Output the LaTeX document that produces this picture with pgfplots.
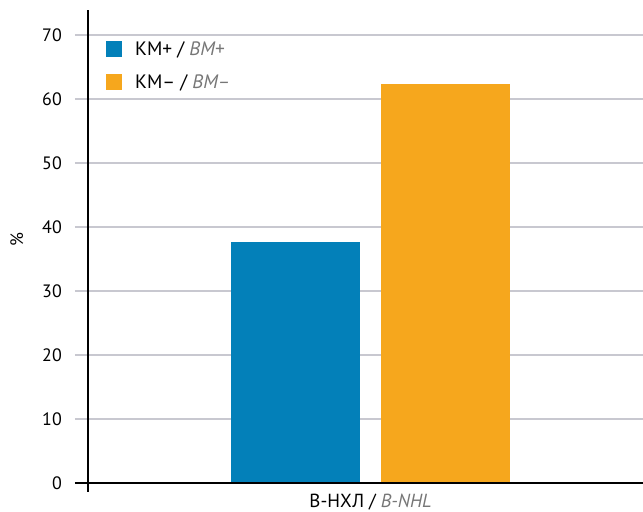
\documentclass[border=0pt]{standalone}
\usepackage{fontspec}
\setmainfont{PT Sans}
\usepackage{pgfplots}
\pgfplotsset{compat=1.18}
\definecolor{kmplus}{RGB}{3,128,185}
\definecolor{kmminus}{RGB}{246,167,29}
\definecolor{gridgray}{RGB}{200,200,208}
\definecolor{latgray}{RGB}{118,118,118}

\begin{document}
\begin{tikzpicture}[x=1bp,y=1bp]
\path[use as bounding box] (-88,-29) rectangle (555,483);
\begin{axis}[
  at={(0,0)}, anchor=south west,
  scale only axis, width=555bp, height=473bp,
  xmin=-282.5, xmax=272.5, ymin=0, ymax=73.9,
  clip=false,
  axis line style={draw=none},
  font=\fontsize{18}{21}\selectfont,
  /pgf/number format/assume math mode=true,
  ytick={0,10,...,70},
  ymajorgrids, grid style={gridgray, line width=1.3bp},
  tick align=outside, major tick length=13bp,
  ytick style={gridgray, line width=1.3bp},
  yticklabel style={inner sep=0pt, xshift=-13bp},
  xtick={0}, xtick style={draw=none},
  xticklabels={В-НХЛ / \textcolor{latgray}{\itshape B-NHL}},
  xticklabel style={inner sep=0pt, yshift=2bp, font=\fontsize{19}{22}\selectfont},
  ylabel={\%},
  ylabel style={at={(axis description cs:-0.128,0.514)}, anchor=center, rotate=0},
  legend style={at={(rel axis cs:0.0324,0.935)}, anchor=north west, draw=none, fill=none,
    inner sep=0pt, row sep=17bp, font=\fontsize{19.5}{22}\selectfont,
    nodes={inner sep=0pt, anchor=west}},
  legend cell align=left,
  legend image code/.code={\fill[#1] (0bp,-8bp) rectangle (16bp,8bp);},
]
\addplot[ybar, bar width=129bp, bar shift=-75bp, fill=kmplus, draw=none] coordinates {(0,37.7)};
\addlegendentry{\hspace{13bp}КМ+ / \textcolor{latgray}{\itshape BM+}}
\addplot[ybar, bar width=129bp, bar shift=75bp, fill=kmminus, draw=none] coordinates {(0,62.3)};
\addlegendentry{\hspace{13bp}КМ– / \textcolor{latgray}{\itshape BM–}}
\draw[black, line width=2bp] ([xshift=-13bp]rel axis cs:0,0) -- (rel axis cs:1,0);
\draw[black, line width=2bp] ([yshift=-9bp]rel axis cs:0,0) -- (rel axis cs:0,1);
\end{axis}
\end{tikzpicture}
\end{document}
